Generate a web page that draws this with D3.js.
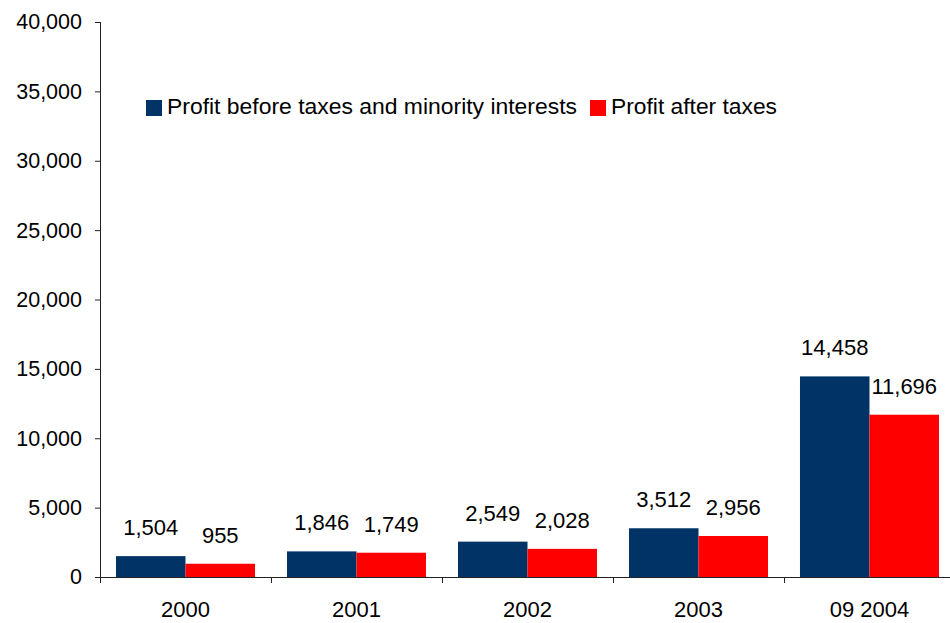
<!DOCTYPE html>
<html>
<head>
<meta charset="utf-8">
<script src="https://cdn.jsdelivr.net/npm/d3@7"></script>
<style>
  body { margin: 0; background: #fff; overflow: hidden; }
  svg text { font-family: "Liberation Sans", Arial, sans-serif; fill: #000; }
</style>
</head>
<body>
<div id="chart"></div>
<script>
// chart data
var categories = ["2000", "2001", "2002", "2003", "09 2004"];
var seriesNames = ["Profit before taxes and minority interests", "Profit after taxes"];
var beforeTaxes = [1504, 1846, 2549, 3512, 14458];
var afterTaxes = [955, 1749, 2028, 2956, 11696];
var seriesColors = ["#023366", "#ff0000"];
var yTicks = [0, 5000, 10000, 15000, 20000, 25000, 30000, 35000, 40000];

var width = 950, height = 623;
// the plot runs slightly past the right edge of the picture
var margin = {top: 22, right: -5, bottom: 46, left: 100};
var innerW = width - margin.left - margin.right;
var innerH = height - margin.top - margin.bottom;

var svg = d3.select("#chart").append("svg")
    .attr("width", width)
    .attr("height", height);

var g = svg.append("g")
    .attr("transform", "translate(" + margin.left + "," + margin.top + ")");

var x0 = d3.scaleBand()
    .domain(categories)
    .range([0, innerW])
    .paddingInner(0.187)
    .paddingOuter(0.0935);

var x1 = d3.scaleBand()
    .domain([0, 1])
    .range([0, x0.bandwidth()]);

var y = d3.scaleLinear()
    .domain([0, 40000])
    .range([innerH, 0]);

var fmt = d3.format(",");

// bars
var rows = categories.map(function(c, i) {
  return {cat: c, vals: [beforeTaxes[i], afterTaxes[i]]};
});

var groups = g.selectAll("g.grp")
    .data(rows)
  .enter().append("g")
    .attr("class", "grp")
    .attr("transform", function(d) { return "translate(" + x0(d.cat) + ",0)"; });

groups.selectAll("rect")
    .data(function(d) { return d.vals.map(function(v, k) { return {k: k, v: v}; }); })
  .enter().append("rect")
    .attr("x", function(d) { return x1(d.k); })
    .attr("y", function(d) { return y(d.v); })
    .attr("width", x1.bandwidth())
    .attr("height", function(d) { return innerH - y(d.v); })
    .attr("fill", function(d) { return seriesColors[d.k]; });

// value labels above bars
groups.selectAll("text.val")
    .data(function(d) { return d.vals.map(function(v, k) { return {k: k, v: v}; }); })
  .enter().append("text")
    .attr("class", "val")
    .attr("x", function(d) { return x1(d.k) + x1.bandwidth() / 2; })
    .attr("y", function(d) { return y(d.v) - 21; })
    .attr("text-anchor", "middle")
    .style("font-size", "22px")
    .text(function(d) { return fmt(d.v); });

// y axis
var yAxis = g.append("g")
    .call(d3.axisLeft(y).tickValues(yTicks).tickFormat(fmt).tickSize(5).tickPadding(13));
yAxis.selectAll("text").style("font-size", "21.5px");
yAxis.select(".domain").attr("stroke", "#222").attr("d", "M0.5," + innerH + "V0");
yAxis.selectAll("line").attr("stroke", "#222");

// x axis with ticks at category boundaries
var xAxis = g.append("g")
    .attr("transform", "translate(0," + innerH + ")");
xAxis.append("line")
    .attr("x1", 0).attr("x2", innerW)
    .attr("y1", 0.5).attr("y2", 0.5)
    .attr("stroke", "#222");
var step = x0.step();
xAxis.selectAll("line.tk")
    .data(d3.range(categories.length + 1))
  .enter().append("line")
    .attr("class", "tk")
    .attr("x1", function(i) { return Math.round(i * step) + 0.5; })
    .attr("x2", function(i) { return Math.round(i * step) + 0.5; })
    .attr("y1", 0).attr("y2", 6)
    .attr("stroke", "#222");
xAxis.selectAll("text")
    .data(categories)
  .enter().append("text")
    .attr("x", function(c) { return x0(c) + x0.bandwidth() / 2; })
    .attr("y", 40)
    .attr("text-anchor", "middle")
    .style("font-size", "22px")
    .text(function(c) { return c; });

// legend
var legend = svg.append("g").attr("transform", "translate(146,100)");
var lx = [0, 444];
var lw = [410, 166];
seriesNames.forEach(function(name, k) {
  legend.append("rect")
      .attr("x", lx[k]).attr("y", 0)
      .attr("width", 16).attr("height", 16)
      .attr("fill", seriesColors[k]);
  legend.append("text")
      .attr("x", lx[k] + 21).attr("y", 14)
      .attr("textLength", lw[k])
      .attr("lengthAdjust", "spacingAndGlyphs")
      .style("font-size", "21.5px")
      .text(name);
});
</script>
</body>
</html>
